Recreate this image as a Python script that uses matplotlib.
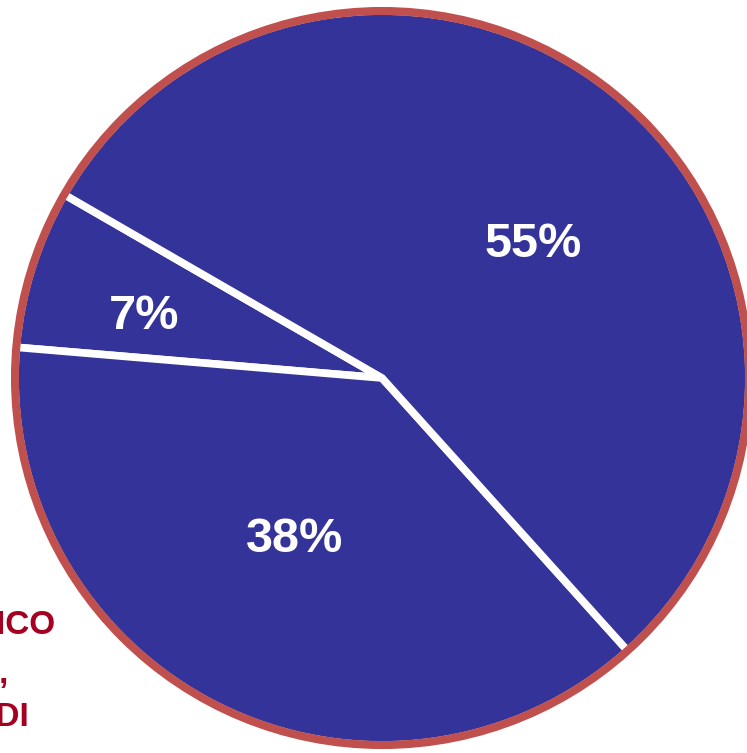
import matplotlib.pyplot as plt
from matplotlib.patches import Circle
import numpy as np

# ── Data ──────────────────────────────────────────────────────────────────────
shares = [7, 38, 55]
slice_labels = ["7%", "38%", "55%"]
side_lines = ["PUBBLICO", ",", "FONDI"]

# ── Style ─────────────────────────────────────────────────────────────────────
C_FILL = "#333399"
C_RIM = "#C0504D"
C_SIDE = "#A50021"
FONT = "Liberation Sans"

W, H = 747, 753
fig = plt.figure(figsize=(W / 100, H / 100), dpi=100, facecolor="white")
ax = fig.add_axes([0, 0, 1, 1])

CX, CY, R = 382, 375, 367
wedges, _ = ax.pie(shares, colors=[C_FILL] * len(shares), startangle=150,
                   counterclock=True, center=(CX, CY), radius=R, frame=True,
                   wedgeprops={"edgecolor": "white", "linewidth": 5.5})

# red rim on top of the white wedge outlines
ax.add_patch(Circle((CX, CY), R, facecolor="none", edgecolor=C_RIM,
                    linewidth=5.8, zorder=5))

# percentage labels near the middle angle of each wedge
label_r = [0.67, 0.50, 0.55]
label_turn = [3, -2, -9.5]
for w, t, rr, dt in zip(wedges, slice_labels, label_r, label_turn):
    mid = np.deg2rad((w.theta1 + w.theta2) / 2 + dt)
    ax.text(CX + rr * R * np.cos(mid), CY + rr * R * np.sin(mid), t,
            ha="center", va="center", fontsize=35, fontweight="bold",
            color="white", fontfamily=FONT, zorder=6)

# clipped side text at the bottom left
ax.text(56, H - 625, side_lines[0], ha="right", va="center", fontsize=24,
        fontweight="bold", color=C_SIDE, fontfamily=FONT)
ax.text(8, H - 683, side_lines[1], ha="right", va="baseline", fontsize=24,
        fontweight="bold", color=C_SIDE, fontfamily=FONT)
ax.text(30, H - 718, side_lines[2], ha="right", va="center", fontsize=24,
        fontweight="bold", color=C_SIDE, fontfamily=FONT)

ax.set_xlim(0, W)
ax.set_ylim(0, H)
ax.axis("off")

fig.savefig("out.png", dpi=100, facecolor="white")
